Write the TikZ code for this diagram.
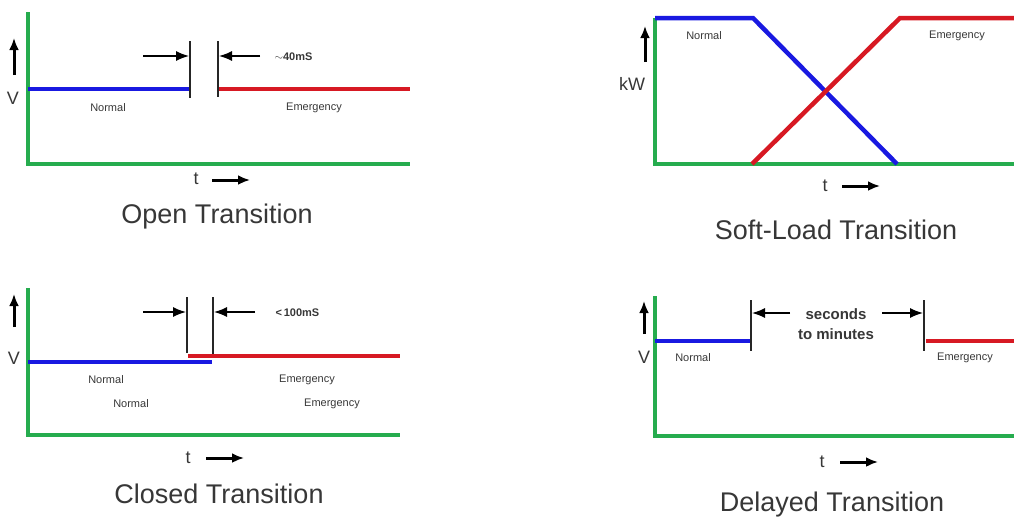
\documentclass[tikz,border=0pt]{standalone}
\usepackage{fontspec}
\setmainfont{Liberation Sans}
\usetikzlibrary{arrows,arrows.meta,positioning,calc}
\definecolor{axisgreen}{RGB}{38,172,78}
\definecolor{nblue}{RGB}{25,25,225}
\definecolor{ered}{RGB}{215,25,35}
\definecolor{txtgrey}{RGB}{55,55,55}

\begin{document}
\begin{tikzpicture}[x=1pt,y=-1pt,
    axis/.style={axisgreen,line width=3.4pt,line join=miter},
    normal/.style={nblue,line width=4.5pt},
    emerg/.style={ered,line width=4.5pt},
    mark line/.style={black!85,line width=1.5pt},
    gap/.style={-{Latex[length=13pt,width=10pt]},black,line width=1.4pt},
    dir/.style={-{Latex[length=12pt,width=10pt]},black,line width=3pt},
    lbl/.style={font=\fontsize{11}{13}\selectfont,text=txtgrey},
    unit/.style={font=\fontsize{18}{20}\selectfont,text=txtgrey},
    title/.style={font=\fontsize{27}{30}\selectfont,text=txtgrey}]
  \useasboundingbox (0,0) rectangle (1014,520);

  % open transition
  \draw[axis] (28,12) -- (28,164) -- (410,164);
  \draw[normal] (28,89) -- (190,89);
  \draw[emerg] (218,89) -- (410,89);
  \draw[mark line] (190,41) -- (190,98);
  \draw[mark line] (218,41) -- (218,97);
  \draw[gap] (143,56) -- (189,56);
  \draw[gap] (260,56) -- (219,56);
  \node[lbl,anchor=west] (gapA) at (271,57) {\bfseries$\sim$40mS};
  \node[lbl] (nrmA) at (108,108) {Normal};
  \node[lbl] (emgA) at (314,108) {Emergency};
  \draw[dir] (14,75) -- (14,38);
  \node[unit] (vA) at (13,98) {V};
  \node[unit] (tA) at (196,179) {t};
  \draw[dir] (212,180) -- (250,180);
  \node[title] (ttlA) at (217,217) {Open Transition};

  % soft-load transition
  \draw[axis] (655,18) -- (655,164) -- (1014,164);
  \draw[normal] (655,18) -- (753,18) -- (897,164);
  \draw[emerg] (752,164) -- (900,18) -- (1014,18);
  \node[lbl] (nrmB) at (704,36) {Normal};
  \node[lbl] (emgB) at (957,36) {Emergency};
  \draw[dir] (645,62) -- (645,26);
  \node[unit] (kwB) at (632,84) {kW};
  \node[unit] (tB) at (825,186) {t};
  \draw[dir] (842,186) -- (880,186);
  \node[title] (ttlB) at (836,230) {Soft-Load Transition};

  % closed transition
  \draw[axis] (28,288) -- (28,435) -- (400,435);
  \draw[emerg] (188,356) -- (400,356);
  \draw[normal] (28,362) -- (212,362);
  \draw[mark line] (187,297) -- (187,353);
  \draw[mark line] (213,297) -- (213,354);
  \draw[gap] (143,312) -- (186,312);
  \draw[gap] (255,312) -- (214,312);
  \node[lbl,anchor=west] (gapC) at (272,313) {\bfseries<\,100mS};
  \node[lbl] (nrmC) at (106,380) {Normal};
  \node[lbl] (nrmC2) at (131,404) {Normal};
  \node[lbl] (emgC) at (307,380) {Emergency};
  \node[lbl] (emgC2) at (332,404) {Emergency};
  \draw[dir] (14,327) -- (14,294);
  \node[unit] (vC) at (14,358) {V};
  \node[unit] (tC) at (188,458) {t};
  \draw[dir] (206,458) -- (244,458);
  \node[title] (ttlC) at (219,494) {Closed Transition};

  % delayed transition
  \draw[axis] (655,296) -- (655,436) -- (1014,436);
  \draw[normal] (655,341) -- (751,341);
  \draw[emerg] (926,341) -- (1014,341);
  \draw[mark line] (751,300) -- (751,351);
  \draw[mark line] (924,300) -- (924,351);
  \draw[gap] (790,313) -- (752,313);
  \draw[gap] (882,313) -- (923,313);
  \node[font=\fontsize{15}{20}\selectfont\bfseries,text=txtgrey,align=center] (delD) at (836,324) {seconds\\to minutes};
  \node[lbl] (nrmD) at (693,358) {Normal};
  \node[lbl] (emgD) at (965,358) {Emergency};
  \draw[dir] (644,334) -- (644,301);
  \node[unit] (vD) at (644,357) {V};
  \node[unit] (tD) at (822,462) {t};
  \draw[dir] (840,462) -- (878,462);
  \node[title] (ttlD) at (832,505) {Delayed Transition};
\end{tikzpicture}
\end{document}
